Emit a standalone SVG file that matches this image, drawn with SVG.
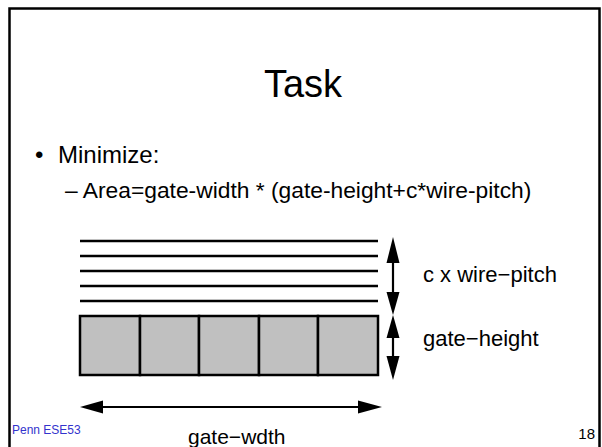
<svg xmlns="http://www.w3.org/2000/svg" width="602" height="447" viewBox="0 0 602 447">
<style>
text{font-family:"Liberation Sans",Arial,Helvetica,sans-serif;fill:#000}
.wire{stroke:#000;stroke-width:2.5;fill:none}
.cell{fill:#c0c0c0;stroke:#000;stroke-width:2.5}
.shaft{stroke:#000;stroke-width:2.2;fill:none}
.head{fill:#000;stroke:none}
.lbl{font-size:22px}
</style>
<rect width="602" height="447" fill="#fff"/>
<rect x="9.5" y="8.5" width="590" height="450" fill="none" stroke="#000" stroke-width="2.5"/>
<g id="title"><text x="303" y="97" font-size="38" text-anchor="middle">Task</text></g>
<g id="bullet1"><text x="35" y="163" font-size="24">•</text><text x="58" y="163" font-size="24">Minimize:</text></g>
<g id="bullet2"><text x="65" y="198" font-size="22.8">– Area=gate-width * (gate-height+c*wire-pitch)</text></g>
<g id="wires">
<line class="wire" x1="80" y1="241" x2="378" y2="241"/>
<line class="wire" x1="80" y1="256" x2="378" y2="256"/>
<line class="wire" x1="80" y1="271" x2="378" y2="271"/>
<line class="wire" x1="80" y1="286" x2="378" y2="286"/>
<line class="wire" x1="80" y1="301" x2="378" y2="301"/>
</g>
<g id="gates">
<rect class="cell" x="80" y="316" width="60" height="59"/>
<rect class="cell" x="140" y="316" width="59" height="59"/>
<rect class="cell" x="199" y="316" width="60" height="59"/>
<rect class="cell" x="259" y="316" width="59" height="59"/>
<rect class="cell" x="318" y="316" width="60" height="59"/>
</g>
<g id="connectors">
<line class="shaft" x1="393" y1="255" x2="393" y2="300"/>
<polygon class="head" points="393,237 399.5,263 386.5,263"/>
<polygon class="head" points="393,315 399.5,292 386.5,292"/>
<line class="shaft" x1="393" y1="330" x2="393" y2="362"/>
<polygon class="head" points="393,315 399.5,338 386.5,338"/>
<polygon class="head" points="393,380 399.5,356 386.5,356"/>
<line class="shaft" x1="98" y1="407" x2="364" y2="407"/>
<polygon class="head" points="80,407 103,400.5 103,413.5"/>
<polygon class="head" points="382,407 358,400.5 358,413.5"/>
</g>
<g id="label-wire"><text class="lbl" x="423" y="282">c x wire−pitch</text></g>
<g id="label-height"><text class="lbl" x="423" y="346">gate−height</text></g>
<g id="label-width"><text x="188" y="444" font-size="21">gate−wdth</text></g>
<g id="footer">
<text x="12" y="434" font-size="12" style="fill:#3333cc">Penn ESE53</text>
<text x="595" y="439" font-size="15" text-anchor="end">18</text>
</g>
</svg>
